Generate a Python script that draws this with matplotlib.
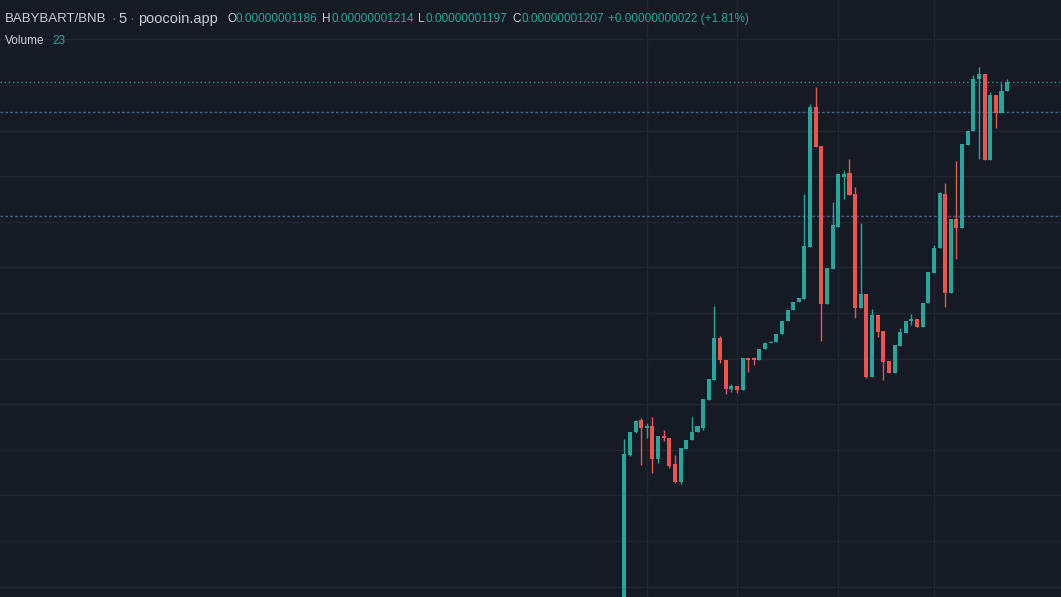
import matplotlib
matplotlib.use('Agg')
import matplotlib.pyplot as plt
import numpy as np

# BABYBART/BNB 5m candles, prices in 1e-9 BNB
opens = [0.30, 3.89, 4.38, 4.65, 4.48, 4.52, 3.80, 4.31, 4.25, 3.69,
         3.30, 4.01, 4.21, 4.39, 4.48, 5.09, 5.53, 6.46, 5.98, 5.33,
         5.40, 5.31, 6.01, 6.01, 5.97, 6.20, 6.34, 6.37, 6.55, 6.82,
         7.07, 7.25, 7.30, 8.45, 11.52, 10.66, 7.20, 7.96, 8.89, 9.99,
         10.06, 9.60, 7.10, 7.42, 5.60, 6.96, 6.60, 5.95, 5.68, 6.28,
         6.57, 6.83, 6.86, 6.70, 7.23, 7.88, 8.42, 9.61, 7.43, 9.06,
         8.87, 10.68, 11.00, 12.13, 12.24, 10.36, 11.78, 11.38, 11.86]
highs = [4.24, 4.40, 4.65, 4.70, 4.59, 4.72, 4.31, 4.43, 4.25, 3.89,
         4.03, 4.22, 4.71, 4.52, 5.11, 5.55, 7.15, 6.50, 5.98, 5.44,
         5.40, 6.01, 6.01, 6.04, 6.20, 6.37, 6.38, 6.55, 6.82, 7.07,
         7.25, 7.32, 9.61, 11.58, 11.95, 10.66, 7.99, 9.44, 10.04, 10.12,
         10.38, 9.77, 8.97, 7.42, 7.08, 6.96, 6.60, 5.95, 6.30, 6.67,
         6.83, 6.98, 6.86, 7.23, 7.91, 8.49, 9.66, 9.86, 9.06, 10.33,
         10.71, 11.00, 12.22, 12.39, 12.25, 11.85, 11.78, 12.05, 12.14]
lows = [0.30, 3.87, 4.36, 3.67, 4.26, 3.50, 3.71, 4.20, 3.60, 3.27,
        3.24, 4.01, 4.21, 4.39, 4.43, 5.09, 5.53, 5.90, 5.22, 5.27,
        5.24, 5.31, 5.71, 5.87, 5.97, 6.20, 6.34, 6.37, 6.55, 6.82,
        7.07, 7.25, 7.30, 8.45, 10.63, 6.39, 7.20, 7.96, 8.89, 9.50,
        9.59, 6.88, 7.10, 5.58, 5.60, 6.48, 5.53, 5.68, 5.68, 6.28,
        6.57, 6.74, 6.70, 6.70, 7.23, 7.88, 8.42, 7.14, 7.43, 8.18,
        8.87, 10.68, 11.00, 10.37, 10.36, 10.36, 11.05, 11.38, 11.86]
closes = [3.91, 4.38, 4.64, 4.48, 4.52, 3.80, 4.31, 4.25, 3.65, 3.30,
          4.03, 4.22, 4.39, 4.52, 5.11, 5.55, 6.46, 5.97, 5.33, 5.40,
          5.31, 6.01, 5.97, 5.97, 6.20, 6.34, 6.37, 6.55, 6.82, 7.07,
          7.25, 7.32, 8.48, 11.52, 10.63, 7.20, 7.99, 8.93, 10.04, 10.04,
          9.59, 7.10, 7.42, 5.60, 6.96, 6.59, 5.93, 5.68, 6.30, 6.59,
          6.83, 6.86, 6.70, 7.23, 7.91, 8.42, 9.63, 7.43, 9.06, 8.87,
          10.71, 11.00, 12.13, 12.24, 10.36, 11.78, 11.38, 11.87, 12.07]

drawn_levels = [11.41, 9.13]
price_grid = list(range(1, 14))
time_grid = [4, 20, 38, 55]

bg = '#161a25'
up = '#26a69a'
down = '#ef5350'

fig = plt.figure(figsize=(10.61, 5.97), dpi=100, facecolor=bg)
ax = fig.add_axes([0, 0, 1, 1])
ax.set_facecolor(bg)

o = np.array(opens)
h = np.array(highs)
l = np.array(lows)
c = np.array(closes)
x = np.arange(len(o))
colors = [up if cc >= oo else down for oo, cc in zip(o, c)]

# grid
for g in price_grid:
    ax.axhline(g, color='#212532', lw=1, zorder=0)
for g in time_grid:
    ax.axvline(g, color='#212532', lw=1, zorder=0)

# drawn levels and last price line
for lv in drawn_levels:
    ax.axhline(lv, color='#4b5f86', lw=1, ls=(0, (2, 1.5)), zorder=1)
ax.axhline(c[-1], color='#3d8f8a', lw=1, ls=(0, (1, 2)), zorder=1)

# wicks and bodies
ax.vlines(x, l, h, colors=colors, lw=1, zorder=2)
body_lo = np.minimum(o, c)
body_h = np.maximum(np.abs(c - o), 0.03)
ax.bar(x, body_h, bottom=body_lo, width=0.72, color=colors, lw=0, zorder=3)

ax.set_xlim(-110.9, 77.57)
ax.set_ylim(0.772, 13.864)
ax.axis('off')

# header
W, H = 1061, 597
def put(px, py, s, color, size):
    fig.text(px / W, 1 - py / H, s, color=color, fontsize=size,
             family='Liberation Sans', ha='left', va='center')

title_c = '#c9ccd4'
dim = '#6a6e79'
put(5, 19, 'BABYBART/BNB', title_c, 9.5)
put(111, 19, '·', dim, 10)
put(118, 19, '5', title_c, 10.5)
put(129, 19, '·', dim, 10)
put(138, 19, 'poocoin.app', title_c, 10.5)
put(227, 19, 'O', title_c, 8.5)
put(236, 19, '0.00000001186', up, 8.5)
put(322, 19, 'H', title_c, 8.5)
put(331, 19, '0.00000001214', up, 8.5)
put(418, 19, 'L', title_c, 8.5)
put(425, 19, '0.00000001197', up, 8.5)
put(512, 19, 'C', title_c, 8.5)
put(521, 19, '0.00000001207', up, 8.5)
put(608, 19, '+0.00000000022 (+1.81%)', up, 8.5)
put(5, 41, 'Volume', title_c, 8.5)
put(52, 41, '23', up, 8.5)

fig.savefig('out.png', dpi=100, facecolor=bg)
